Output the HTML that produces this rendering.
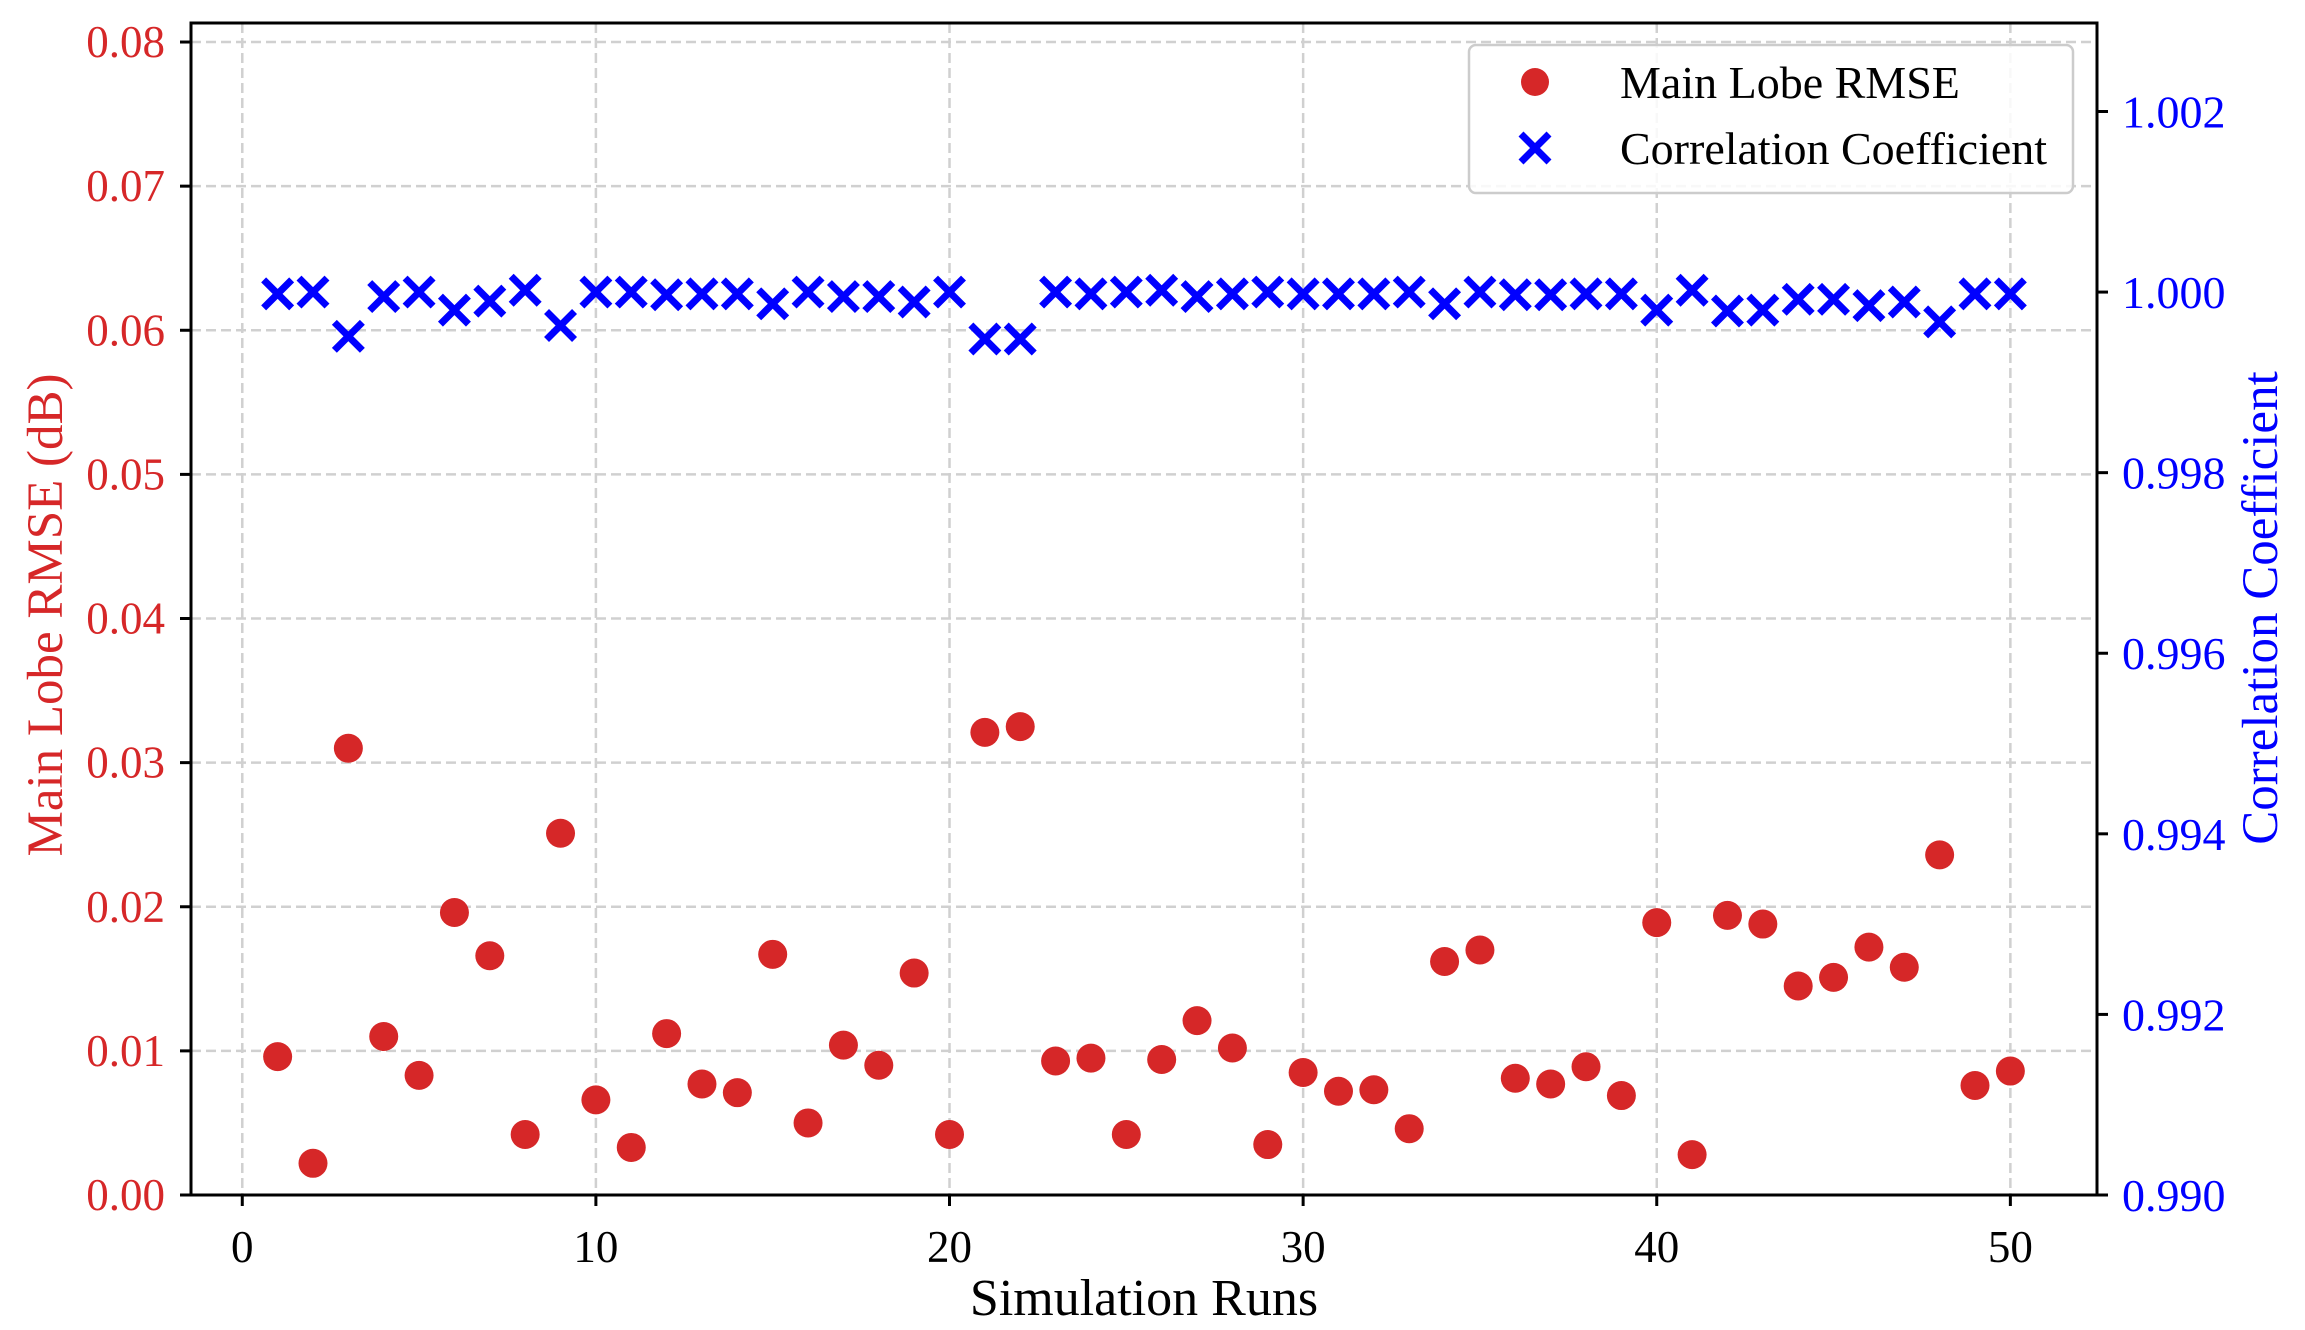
<!DOCTYPE html>
<html><head><meta charset="utf-8"><style>
html,body{margin:0;padding:0;background:#fff;}
svg{display:block;font-family:"Liberation Serif",serif;}
</style></head><body>
<svg id="chart" width="2305" height="1330" viewBox="0 0 2305 1330" xmlns="http://www.w3.org/2000/svg">
<rect width="2305" height="1330" fill="#fff"/>
<g id="grid"></g>
<g id="marks"></g>
<g id="axes"></g>
<g>
<rect x="1469" y="45" width="604" height="148" rx="7" fill="#fff" fill-opacity="0.85" stroke="#ccc" stroke-width="2.5"/>
<circle cx="1535" cy="82" r="14" fill="#d62728"/>
<text x="1620" y="98" font-size="46">Main Lobe RMSE</text>
<path d="M1521,134 L1549,162 M1549,134 L1521,162" stroke="#0000ff" stroke-width="7"/>
<text x="1620" y="164" font-size="46">Correlation Coefficient</text>
</g>
<text x="1144" y="1315" font-size="52" text-anchor="middle">Simulation Runs</text>
<text transform="translate(62,615) rotate(-90)" font-size="51" fill="#d62728" text-anchor="middle">Main Lobe RMSE (dB)</text>
<text transform="translate(2277,608) rotate(-90)" font-size="51" fill="#0000ff" text-anchor="middle">Correlation Coefficient</text>
</svg>
<script>
const runs = [];
for (let i = 1; i <= 50; i++) runs.push(i);
const rmseValues = [0.0096,0.0022,0.0310,0.0110,0.0083,0.0196,0.0166,0.0042,0.0251,0.0066,
0.0033,0.0112,0.0077,0.0071,0.0167,0.0050,0.0104,0.0090,0.0154,0.0042,
0.0321,0.0325,0.0093,0.0095,0.0042,0.0094,0.0121,0.0102,0.0035,0.0085,
0.0072,0.0073,0.0046,0.0162,0.0170,0.0081,0.0077,0.0089,0.0069,0.0189,
0.0028,0.0194,0.0188,0.0145,0.0151,0.0172,0.0158,0.0236,0.0076,0.0086];
const corrValues = [0.99998,1.00000,0.99951,0.99995,1.00000,0.99980,0.99990,1.00002,0.99963,1.00000,
1.00000,0.99997,0.99998,0.99998,0.99987,1.00000,0.99995,0.99995,0.99989,1.00000,
0.99948,0.99948,1.00000,0.99998,1.00000,1.00002,0.99995,0.99998,1.00000,0.99998,
0.99998,0.99998,1.00000,0.99987,1.00000,0.99997,0.99997,0.99998,0.99998,0.99980,
1.00002,0.99979,0.99980,0.99992,0.99992,0.99985,0.99989,0.99967,0.99998,0.99998];
const xTicks = [0,10,20,30,40,50];
const leftTicks = [0.00,0.01,0.02,0.03,0.04,0.05,0.06,0.07,0.08];
const rightTicks = [0.990,0.992,0.994,0.996,0.998,1.000,1.002];

const L=191, R=2097, T=23, B=1195;
const xMin=-1.45, xMax=52.45, lMin=0, lMax=0.08132, rMin=0.990, rMax=1.00298;
const xs = v => L + (v - xMin) / (xMax - xMin) * (R - L);
const yl = v => B - (v - lMin) / (lMax - lMin) * (B - T);
const yr = v => B - (v - rMin) / (rMax - rMin) * (B - T);
const NS = "http://www.w3.org/2000/svg";
function mk(parent, tag, attrs, text){
  const e = document.createElementNS(NS, tag);
  for (const k in attrs) e.setAttribute(k, attrs[k]);
  if (text !== undefined) e.textContent = text;
  parent.appendChild(e); return e;
}
const grid = document.getElementById('grid');
const marks = document.getElementById('marks');
const axes = document.getElementById('axes');
const gs = {stroke:'#d0d0d0','stroke-width':2.5,'stroke-dasharray':'10,5'};
xTicks.forEach(t => {
  const g = mk(grid,'line',Object.assign({x1:xs(t),x2:xs(t),y1:T,y2:B},gs));
  
  
  const tk = mk(axes,'line',{x1:xs(t),x2:xs(t),y1:B,y2:B+11,stroke:'#000','stroke-width':3});
  
  
  const lb = mk(axes,'text',{x:xs(t),y:1262,'font-size':45,'text-anchor':'middle'},String(t));
  
  
});
leftTicks.forEach(t => {
  const g = mk(grid,'line',Object.assign({x1:L,x2:R,y1:yl(t),y2:yl(t)},gs));
  
  
  const tk = mk(axes,'line',{x1:L-11,x2:L,y1:yl(t),y2:yl(t),stroke:'#000','stroke-width':3});
  
  
  const lb = mk(axes,'text',{x:165,y:yl(t)+15,'font-size':45,'text-anchor':'end',fill:'#d62728'},t.toFixed(2));
  
  
});
rightTicks.forEach(t => {
  const tk = mk(axes,'line',{x1:R,x2:R+11,y1:yr(t),y2:yr(t),stroke:'#000','stroke-width':3});
  
  
  const lb = mk(axes,'text',{x:2122,y:yr(t)+16,'font-size':46,fill:'#0000ff'},t.toFixed(3));
  
  
});
runs.forEach((r,i) => {
  const c = mk(marks,'circle',{cx:xs(r),cy:yl(rmseValues[i]),r:14.5,fill:'#d62728'});
  
  
});
runs.forEach((r,i) => {
  const x=xs(r), y=yr(corrValues[i]), s=14;
  const p = mk(marks,'path',{d:`M${x-s},${y-s} L${x+s},${y+s} M${x+s},${y-s} L${x-s},${y+s}`,stroke:'#0000ff','stroke-width':7});
  
  
});
const frame = mk(axes,'rect',{x:L,y:T,width:R-L,height:B-T,fill:'none',stroke:'#000','stroke-width':3});


</script>
</body></html>
